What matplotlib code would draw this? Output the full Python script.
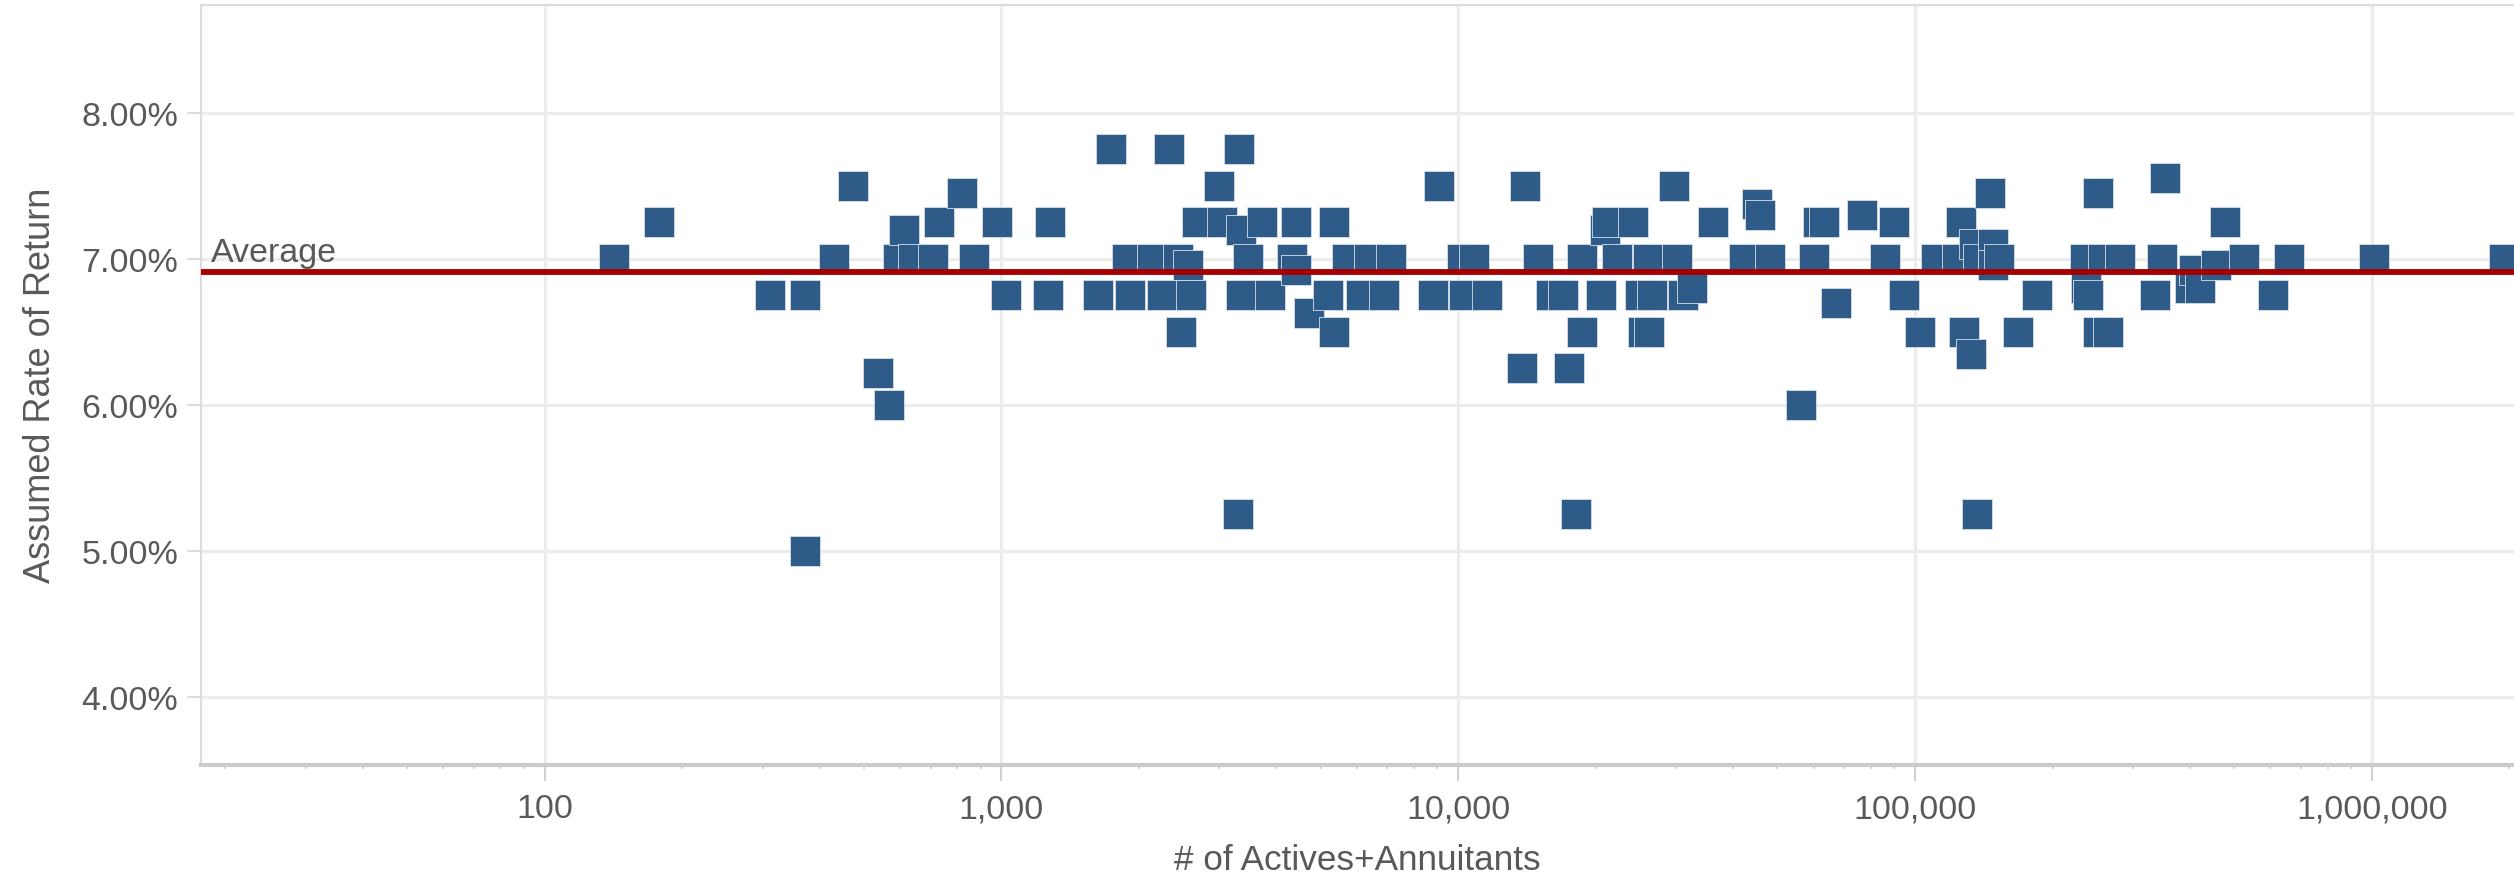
import matplotlib
matplotlib.use("Agg")
import matplotlib.pyplot as plt
from matplotlib.ticker import FuncFormatter, LogLocator, FixedLocator, NullFormatter
from matplotlib.transforms import blended_transform_factory

plt.rcParams['font.family'] = ['Liberation Sans', 'DejaVu Sans']

# ---- data ----
members = [142, 178, 312, 372, 372, 430, 473, 538, 566, 594, 612, 641, 707, 731, 818, 872,
           976, 1024, 1262, 1278, 1630, 1740, 1885, 1915, 2138, 2249, 2322, 2434, 2475,
           2555, 2594, 2684, 3002, 3036, 3300, 3304, 3354, 3354, 3467, 3715, 3877, 4337,
           4411, 4411, 4707, 5176, 5346, 5346, 5703, 6140, 6378, 6896, 7136, 8785, 9087,
           10170, 10320, 10820, 11550, 13760, 13990, 14930, 15930, 16980, 17510, 18100,
           18690, 18690, 20540, 21000, 21200, 22290, 24160, 24950, 25360, 25970, 26180,
           26590, 29750, 30200, 31000, 32500, 36060, 42300, 45100, 45800, 48100, 56400,
           60100, 61200, 63100, 67300, 76500, 85900, 89900, 94400, 102300, 111000, 123300,
           125900, 128100, 132300, 134600, 136400, 137700, 145700, 147800, 147800, 152800,
           168200, 185300, 235600, 237000, 239000, 251000, 251000, 258000, 264000, 280800,
           335700, 346500, 352100, 400500, 407200, 420300, 455000, 477500, 526300, 607000,
           658000, 1012000, 1950000]
rates = [7.00, 7.25, 6.75, 6.75, 5.00, 7.00, 7.50, 6.22, 6.00, 7.00, 7.20, 7.00, 7.00, 7.25, 7.45, 7.00,
         7.25, 6.75, 6.75, 7.25, 6.75, 7.75, 7.00, 6.75, 7.00, 6.75, 7.75, 7.00, 6.50,
         6.96, 6.75, 7.25, 7.50, 7.25, 5.25, 7.75, 7.20, 6.75, 7.00, 7.25, 6.75, 7.00,
         7.25, 6.92, 6.63, 6.75, 7.25, 6.50, 7.00, 6.75, 7.00, 6.75, 7.00, 6.75, 7.50,
         7.00, 6.75, 7.00, 6.75, 6.25, 7.50, 7.00, 6.75, 6.75, 6.25, 5.25,
         7.00, 6.50, 6.75, 7.20, 7.25, 7.00, 7.25, 6.75, 6.50, 7.00, 6.50,
         6.75, 7.50, 7.00, 6.75, 6.80, 7.25, 7.00, 7.375, 7.30, 7.00, 6.00,
         7.00, 7.25, 7.25, 6.70, 7.30, 7.00, 7.25, 6.75, 6.50, 7.00, 7.00,
         7.25, 6.50, 6.35, 7.10, 5.25, 7.00, 7.45, 7.10, 6.96, 7.00,
         6.50, 6.75, 7.00, 6.80, 6.75, 7.45, 6.50, 7.00, 6.50, 7.00,
         6.75, 7.00, 7.55, 6.80, 6.92, 6.80, 6.96, 7.25, 7.00, 6.75,
         7.00, 7.00, 7.00]
average_rate = 6.91
average_label = "Average"
x_ticks = [100, 1000, 10000, 100000, 1000000]
y_ticks = [4.0, 5.0, 6.0, 7.0, 8.0]
x_title = "# of Actives+Annuitants"
y_title = "Assumed Rate of Return"

W, H = 2514, 879
fig = plt.figure(figsize=(W / 100, H / 100), dpi=100)
ax = fig.add_axes([201 / W, 1 - 766 / H, 1 - 201 / W, (766 - 5.6) / H])

txt = '#595959'
grid_c = '#ececec'

ax.set_xscale('log')
ax.set_xlim(17.69, 2.048e6)
ax.set_ylim(3.533, 8.741)

ax.scatter(members, rates, marker='s', s=450, color='#2e5b88',
           edgecolors='#d6e0ea', linewidths=0.6, zorder=3)
ax.axhline(average_rate, color='#a50000', lw=4.2, zorder=4)
trans = blended_transform_factory(ax.transAxes, ax.transData)
ax.text(0.0045, 6.985, average_label, fontsize=24.5, color=txt,
        ha='left', va='baseline', transform=trans, zorder=5)

ax.xaxis.set_major_locator(FixedLocator(x_ticks))
ax.xaxis.set_minor_locator(LogLocator(base=10, subs=range(2, 10)))
ax.xaxis.set_minor_formatter(NullFormatter())
ax.xaxis.set_major_formatter(FuncFormatter(lambda v, p: f'{int(round(v)):,}'))
ax.yaxis.set_major_locator(FixedLocator(y_ticks))
ax.yaxis.set_major_formatter(FuncFormatter(lambda v, p: f'{v:.2f}%'))

ax.grid(True, which='major', color=grid_c, lw=2.3, zorder=0)
ax.set_axisbelow(True)

for side in ['left', 'top']:
    ax.spines[side].set_color('#dcdcdc')
    ax.spines[side].set_linewidth(1.5)
ax.spines['right'].set_visible(False)
ax.spines['bottom'].set_color('#cccccc')
ax.spines['bottom'].set_linewidth(3)

ax.tick_params(axis='x', which='major', length=11.5, width=1.5, color='#d0d0d0',
               labelsize=24.5, labelcolor=txt, pad=9)
ax.tick_params(axis='x', which='minor', length=3, width=1.2, color='#d0d0d0')
ax.tick_params(axis='y', which='major', length=10, width=1.5, color='#dddddd',
               labelsize=24.5, labelcolor=txt, pad=6.5)

ax.set_xlabel(x_title, fontsize=25.3, color=txt, labelpad=13)
ax.set_ylabel(y_title, fontsize=26, color=txt, labelpad=17)

fig.savefig('out.png', dpi=100, facecolor='white')
